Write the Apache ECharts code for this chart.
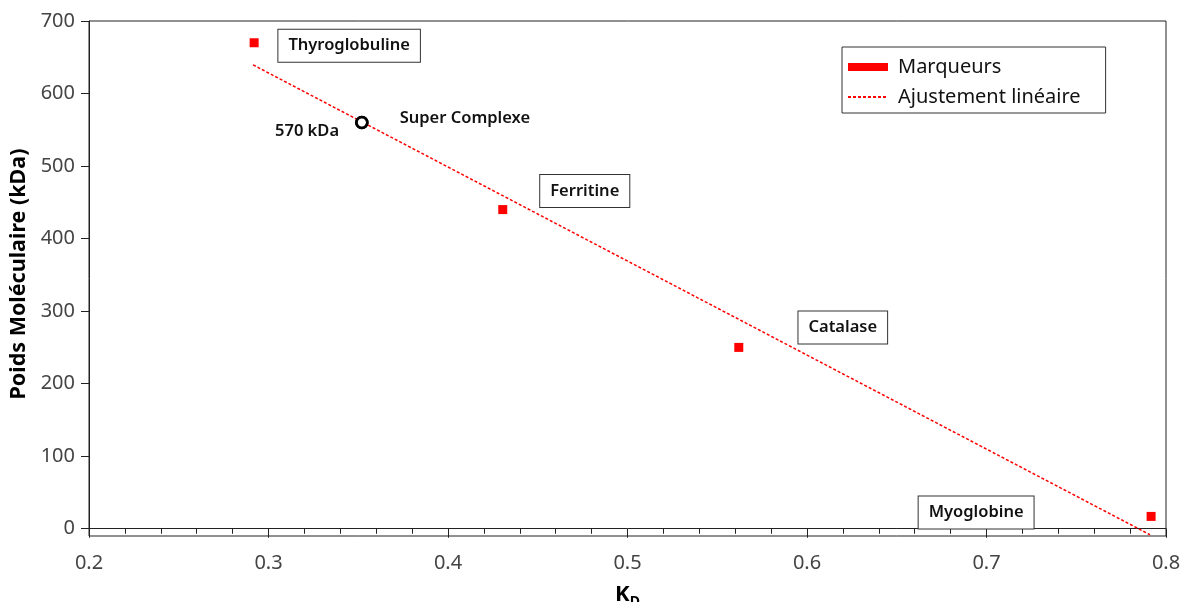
<!DOCTYPE html>
<html>
<head>
<meta charset="utf-8">
<script src="https://cdn.jsdelivr.net/npm/echarts@6/dist/echarts.min.js"></script>
<style>html,body{margin:0;padding:0;background:#fff}#c{width:1182px;height:602px}</style>
</head>
<body>
<div id="c"></div>
<script>
// ---- data ----
const markerNames = ['Thyroglobuline', 'Ferritine', 'Catalase', 'Myoglobine'];
const markerKd = [0.292, 0.4305, 0.562, 0.7917];
const markerMw = [670, 440, 250, 17];
const fitKd = [0.2914, 0.7911];
const fitMw = [639.5, -8.3];
const complexKd = [0.352];
const complexMw = [560];
const complexLabels = ['Super Complexe', '570 kDa'];
const xTickLabels = [0.2, 0.3, 0.4, 0.5, 0.6, 0.7, 0.8];
const yTickLabels = [0, 100, 200, 300, 400, 500, 600, 700];
const legendNames = ['Marqueurs', 'Ajustement linéaire'];

// ---- styles (label offsets in px relative to marker) ----
const labelOffsets = [[95, 3], [82, -18.5], [104, -20], [-175, -4]];
const FONT = 'Noto Sans';

const boxLabel = {
  show: true, position: 'inside', color: '#111', fontFamily: FONT, fontSize: 16.5, fontWeight: 600,
  lineHeight: 18, backgroundColor: '#fff', borderColor: '#333', borderWidth: 1, padding: [7, 10, 7, 10]
};

const chart = echarts.init(document.getElementById('c'));
chart.setOption({
  animation: false,
  grid: { left: 89, right: 16, top: 21, bottom: 66, outerBoundsMode: 'none', containLabel: false,
    show: true, borderColor: '#222', borderWidth: 1, backgroundColor: 'transparent' },
  xAxis: {
    type: 'value', min: 0.2, max: 0.8, interval: 0.1,
    name: '{k|K}{d|D}', nameLocation: 'middle', nameGap: 45,
    nameTextStyle: { rich: { k: { fontFamily: FONT, fontWeight: 'bold', fontSize: 22, color: '#000' }, d: { fontFamily: FONT, fontWeight: 'bold', fontSize: 14, color: '#000', verticalAlign: 'bottom', padding: [14, 0, 0, 0] } } },
    axisLine: { lineStyle: { color: '#222', width: 1 } },
    axisTick: { show: true, inside: false, length: 9, lineStyle: { color: '#222' } },
    minorTick: { show: true, splitNumber: 5, length: 5, lineStyle: { color: '#222' } },
    splitLine: { show: false }, minorSplitLine: { show: false },
    axisLabel: { fontFamily: FONT, fontSize: 20, color: '#444', margin: 17,
      customValues: xTickLabels, formatter: v => v.toFixed(1) }
  },
  yAxis: {
    type: 'value', min: -10, max: 700,
    name: 'Poids Moléculaire (kDa)', nameLocation: 'middle', nameGap: 56,
    nameTextStyle: { fontFamily: FONT, fontWeight: 'bold', fontSize: 21.5, color: '#000', padding: [0, 0, 0, 9] },
    axisLine: { show: true, lineStyle: { color: '#222', width: 1 } },
    axisTick: { show: true, length: 8, customValues: yTickLabels, lineStyle: { color: '#222' } },
    splitLine: { show: false },
    axisLabel: { fontFamily: FONT, fontSize: 20, color: '#444', margin: 14, customValues: yTickLabels }
  },
  legend: {
    left: 842, top: 47, orient: 'vertical',
    data: [
      { name: legendNames[0], icon: 'rect' },
      { name: legendNames[1], itemStyle: { color: 'transparent', borderWidth: 0 } }
    ],
    itemWidth: 40, itemHeight: 8, itemGap: 8,
    backgroundColor: '#fff', borderColor: '#333', borderWidth: 1, borderRadius: 0,
    padding: [9, 25, 5, 5],
    textStyle: { fontFamily: FONT, fontSize: 20, color: '#111', lineHeight: 22, padding: [0, 0, 0, 5] }
  },
  series: [
    {
      name: legendNames[1], type: 'line', symbol: 'none', z: 2,
      data: fitKd.map((x, i) => [x, fitMw[i]]),
      lineStyle: { color: '#ff0000', width: 1.5, type: [3, 2] },
      itemStyle: { color: '#ff0000' }
    },
    {
      name: legendNames[0], type: 'scatter', symbol: 'rect', symbolSize: 9, z: 3,
      itemStyle: { color: '#ff0000', opacity: 1 },
      data: markerKd.map((x, i) => ({
        value: [x, markerMw[i]], name: markerNames[i],
        label: Object.assign({}, boxLabel, { offset: labelOffsets[i], formatter: markerNames[i] })
      }))
    },
    {
      name: 'complexe', type: 'scatter', symbol: 'circle', symbolSize: 11, z: 4,
      itemStyle: { color: '#fff', borderColor: '#000', borderWidth: 2.6, opacity: 1 },
      label: { show: true, position: 'right', distance: 31, offset: [0, -4], formatter: complexLabels[0],
        fontFamily: FONT, fontSize: 16.5, fontWeight: 600, color: '#111' },
      data: complexKd.map((x, i) => [x, complexMw[i]])
    },
    {
      name: 'complexe2', type: 'scatter', symbol: 'circle', symbolSize: 11, z: 4,
      itemStyle: { color: 'transparent', borderColor: '#000', borderWidth: 2.6, opacity: 1 },
      label: { show: true, position: 'left', distance: 16, offset: [0, 9], formatter: complexLabels[1],
        fontFamily: FONT, fontSize: 16.5, fontWeight: 600, color: '#111' },
      data: complexKd.map((x, i) => [x, complexMw[i]])
    }
  ]
});
</script>
</body>
</html>
